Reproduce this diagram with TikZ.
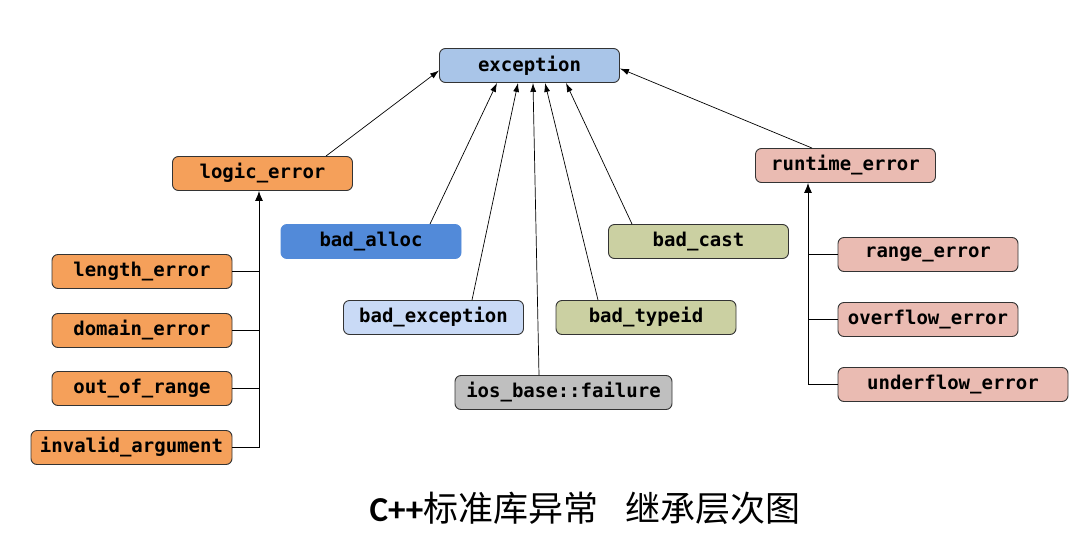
\documentclass[tikz,border=0pt]{standalone}
\usepackage{fontspec}
\setmonofont{DejaVu Sans Mono}
\newfontfamily\cjk{Noto Sans CJK SC}
\newfontfamily\titlefont{Carlito}
\usetikzlibrary{arrows.meta}

\definecolor{baseblue}{RGB}{169,197,232}
\definecolor{logicorange}{RGB}{245,160,90}
\definecolor{runtimepink}{RGB}{234,187,178}
\definecolor{allocblue}{RGB}{82,138,217}
\definecolor{lightblue}{RGB}{201,218,246}
\definecolor{castgreen}{RGB}{203,208,162}
\definecolor{iosgray}{RGB}{191,191,191}

\begin{document}
\begin{tikzpicture}[x=1pt, y=-1pt]

    % Set the canvas size
    \useasboundingbox (0,0) rectangle (1088,544);

    % Define styles
    \tikzset{
        box/.style={draw=black!80, line width=0.9pt, rounded corners=6pt,
            minimum width=180pt, minimum height=34pt, inner sep=0pt,
            font=\fontsize{19}{20}\selectfont\ttfamily\bfseries},
        inherit/.style={-{Latex[length=10pt, width=8pt]}, line width=0.9pt},
        thin arrow/.style={-{Latex[length=9pt, width=6pt]}, line width=0.7pt},
    }

    % Base class
    \node[box, fill=baseblue] (exception) at (529.5,65.5) {exception};

    % Direct subclasses
    \node[box, fill=logicorange] (logic_error) at (262.5,173.5) {logic\_error};
    \node[box, fill=runtimepink] (runtime_error) at (845.5,165.5) {runtime\_error};
    \node[box, fill=allocblue, draw=allocblue] (bad_alloc) at (371,241.5) {bad\_alloc};
    \node[box, fill=castgreen] (bad_cast) at (698.5,241.5) {bad\_cast};
    \node[box, fill=lightblue] (bad_exception) at (433.5,317.5) {bad\_exception};
    \node[box, fill=castgreen] (bad_typeid) at (646,317.5) {bad\_typeid};
    \node[box, fill=iosgray, minimum width=217pt] (ios_failure) at (563.5,392.5) {ios\_base::failure};

    % logic_error family
    \node[box, fill=logicorange] (length_error) at (142,271.5) {length\_error};
    \node[box, fill=logicorange] (domain_error) at (142,330.5) {domain\_error};
    \node[box, fill=logicorange] (out_of_range) at (142,388.5) {out\_of\_range};
    \node[box, fill=logicorange, minimum width=201pt] (invalid_argument) at (131.5,447.5) {invalid\_argument};

    % runtime_error family
    \node[box, fill=runtimepink] (range_error) at (928,254.5) {range\_error};
    \node[box, fill=runtimepink] (overflow_error) at (928,319.5) {overflow\_error};
    \node[box, fill=runtimepink, minimum width=230pt] (underflow_error) at (953,384.5) {underflow\_error};

    % Title
    \node[anchor=base] (title) at (585,521)
        {\fontsize{35}{37}\selectfont{\titlefont\bfseries C++}{\cjk 标准库异常\hspace{27pt}继承层次图}};

    % Arrows to exception
    \draw[thin arrow] ([xshift=63.5pt]logic_error.north) -- ([yshift=-5pt]exception.west);
    \draw[thin arrow] ([xshift=-33.5pt]runtime_error.north) -- ([yshift=-3pt]exception.east);
    \draw[thin arrow] ([xshift=59pt]bad_alloc.north) -- ([xshift=-32.5pt]exception.south);
    \draw[thin arrow] ([xshift=38.5pt]bad_exception.north) -- ([xshift=-11.5pt]exception.south);
    \draw[thin arrow] ([xshift=-24.5pt]ios_failure.north) -- ([xshift=3.5pt]exception.south);
    \draw[thin arrow] ([xshift=-48pt]bad_typeid.north) -- ([xshift=15.5pt]exception.south);
    \draw[thin arrow] ([xshift=-66.5pt]bad_cast.north) -- ([xshift=36.5pt]exception.south);

    % Tree under logic_error
    \coordinate (lt) at ([xshift=-3.5pt]logic_error.south);
    \draw[inherit] (invalid_argument.east) -| (lt);
    \foreach \child in {length_error, domain_error, out_of_range} {
        \draw[line width=0.9pt] (\child.east) -- (\child.east -| lt);
    }

    % Tree under runtime_error
    \coordinate (rt) at ([xshift=-37.5pt]runtime_error.south);
    \draw[inherit] (underflow_error.west) -| (rt);
    \foreach \child in {range_error, overflow_error} {
        \draw[line width=0.9pt] (\child.west) -- (\child.west -| rt);
    }

\end{tikzpicture}
\end{document}
